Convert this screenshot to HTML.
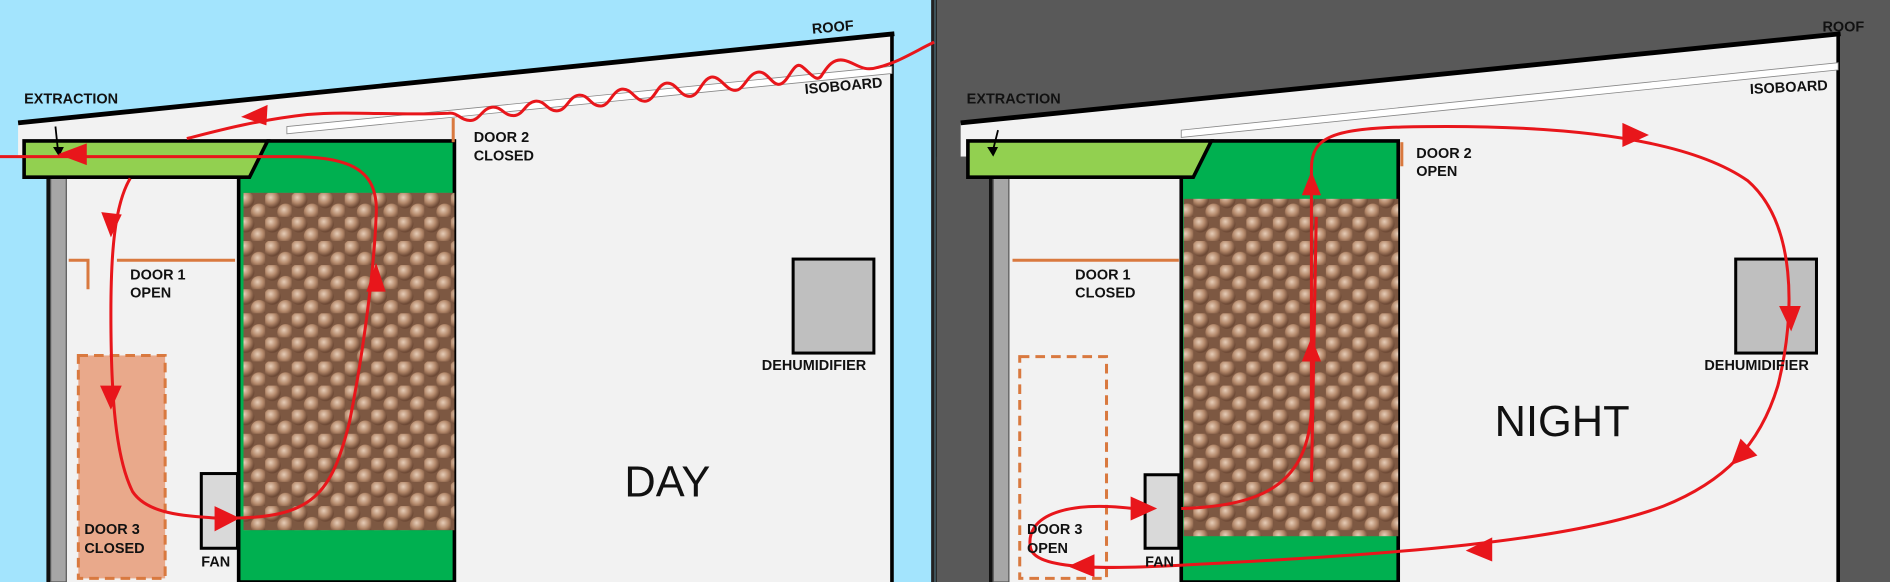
<!DOCTYPE html>
<html><head><meta charset="utf-8"><style>
html,body{margin:0;padding:0;background:#000;}
svg{display:block}
text{font-family:"Liberation Sans",sans-serif;}
.l{font-size:12px;font-weight:bold;fill:#111;}
</style></head><body>
<svg width="1890" height="582" viewBox="0 0 1568 483" preserveAspectRatio="none" xmlns="http://www.w3.org/2000/svg">
<defs>
<radialGradient id="nut" cx="40%" cy="35%" r="60%">
<stop offset="0" stop-color="#e6cdb8"/><stop offset="0.55" stop-color="#b58a6c"/><stop offset="1" stop-color="#6e4a36"/>
</radialGradient>
<pattern id="nuts" width="22" height="20" patternUnits="userSpaceOnUse">
<rect width="22" height="20" fill="#7d5842"/>
<circle cx="6" cy="6" r="7" fill="url(#nut)"/>
<circle cx="17" cy="16" r="7" fill="url(#nut)"/>
</pattern>
</defs>
<!-- LEFT PANEL -->
<rect x="0" y="0" width="776" height="483" fill="#a3e4fd"/>
<polygon points="15,102 740,28 740,483 40,483 40,130 15,130" fill="#f2f2f2"/>
<rect x="0" y="130" width="42" height="353" fill="#a3e4fd"/>
<rect x="42" y="130" width="13" height="353" fill="#a6a6a6" stroke="#555" stroke-width="1"/>
<line x1="40" y1="130" x2="40" y2="483" stroke="#111" stroke-width="3"/>
<line x1="15" y1="102" x2="742" y2="28" stroke="#000" stroke-width="4"/>
<line x1="740" y1="28" x2="740" y2="483" stroke="#000" stroke-width="3"/>
<line x1="774" y1="0" x2="774" y2="483" stroke="#222" stroke-width="3"/>
<polygon points="238,105 740,55 740,61 238,111" fill="#fff" stroke="#888" stroke-width="0.7"/>
<polygon points="222,117 377,117 377,483 198,483 198,147" fill="#00b050" stroke="#000" stroke-width="3"/>
<rect x="202" y="160" width="175" height="280" fill="url(#nuts)"/>
<polygon points="20,117 222,117 207,147 20,147" fill="#92d050" stroke="#000" stroke-width="3"/>
<line x1="376" y1="98" x2="376" y2="118" stroke="#d9793f" stroke-width="2.5"/>
<line x1="97" y1="216" x2="195" y2="216" stroke="#d9793f" stroke-width="2.5"/>
<polyline points="57,216 73,216 73,240" fill="none" stroke="#d9793f" stroke-width="2.5"/>
<rect x="65" y="295" width="72" height="185" fill="#e9a98b" stroke="#d9793f" stroke-width="2.5" stroke-dasharray="8,5"/>
<rect x="167" y="393" width="30" height="62" fill="#d9d9d9" stroke="#000" stroke-width="2.5"/>
<rect x="658" y="215" width="67" height="78" fill="#bfbfbf" stroke="#000" stroke-width="2.5"/>
<line x1="46" y1="105" x2="48" y2="124" stroke="#000" stroke-width="1.5"/>
<polygon points="44,122 53,122 49,130" fill="#000"/>
<g fill="none" stroke="#e8161b" stroke-width="2.5">
<path d="M775,35 C760,42 745,52 728,56 C715,60 710,52 700,50 C690,48 685,58 682,62 C678,70 672,60 665,55 C658,50 654,70 646,70 C640,70 636,58 628,60 C620,62 617,75 610,75 C602,75 598,63 590,64 C582,66 580,80 572,80 C564,80 561,68 553,69 C545,70 543,84 535,84 C527,84 524,73 516,74 C508,75 506,88 498,88 C490,88 488,78 480,79 C472,80 470,92 462,92 C454,92 452,83 444,84 C436,85 434,96 426,96 C418,96 416,88 408,89 C400,90 398,100 390,100 C382,100 380,93 372,94 C330,96 290,92 255,95 C210,100 175,110 155,115"/>
<path d="M0,130 L240,130 C290,130 315,140 312,180 C310,230 300,300 290,350 C275,410 260,430 190,430"/>
<path d="M108,148 C95,170 92,210 92,260 C92,330 96,380 110,408 C122,426 150,428 180,430"/>
</g>
<g fill="#e8161b">
<polygon points="200,97 222,87 221,104"/>
<polygon points="48,128 72,119 72,137"/>
<polygon points="312,218 304,242 320,242"/>
<polygon points="92,197 84,176 101,178"/>
<polygon points="92,340 83,320 101,320"/>
<polygon points="199,430 178,420 178,441"/>
</g>
<text class="l" x="674" y="28" transform="rotate(-5 674 28)">ROOF</text>
<text class="l" x="668" y="78" transform="rotate(-5 668 78)">ISOBOARD</text>
<text class="l" x="20" y="86">EXTRACTION</text>
<text class="l" x="393" y="118">DOOR 2</text>
<text class="l" x="393" y="133">CLOSED</text>
<text class="l" x="108" y="232">DOOR 1</text>
<text class="l" x="108" y="247">OPEN</text>
<text class="l" x="70" y="443">DOOR 3</text>
<text class="l" x="70" y="459">CLOSED</text>
<text class="l" x="167" y="470">FAN</text>
<text class="l" x="632" y="307">DEHUMIDIFIER</text>
<text x="518" y="412" font-size="36" fill="#111">DAY</text>
<!-- RIGHT PANEL -->
<rect x="777" y="0" width="791" height="483" fill="#595959"/>
<polygon points="797,102 1525,28 1525,483 822,483 822,130 797,130" fill="#f2f2f2"/>
<rect x="777" y="130" width="45" height="353" fill="#595959"/>
<rect x="824" y="130" width="13" height="353" fill="#a6a6a6" stroke="#555" stroke-width="1"/>
<line x1="822" y1="130" x2="822" y2="483" stroke="#111" stroke-width="3"/>
<line x1="797" y1="102" x2="1527" y2="28" stroke="#000" stroke-width="4"/>
<line x1="1525" y1="28" x2="1525" y2="483" stroke="#000" stroke-width="3"/>
<polygon points="980,108 1525,52 1525,58 980,114" fill="#fff" stroke="#888" stroke-width="0.7"/>
<polygon points="1005,117 1160,117 1160,483 980,483 980,147" fill="#00b050" stroke="#000" stroke-width="3"/>
<rect x="982" y="165" width="178" height="280" fill="url(#nuts)"/>
<polygon points="803,117 1005,117 990,147 803,147" fill="#92d050" stroke="#000" stroke-width="3"/>
<line x1="1163" y1="118" x2="1163" y2="138" stroke="#d9793f" stroke-width="2.5"/>
<line x1="840" y1="216" x2="978" y2="216" stroke="#d9793f" stroke-width="2.5"/>
<rect x="846" y="296" width="72" height="184" fill="none" stroke="#d9793f" stroke-width="2.5" stroke-dasharray="8,5"/>
<rect x="950" y="394" width="28" height="61" fill="#d9d9d9" stroke="#000" stroke-width="2.5"/>
<rect x="1440" y="215" width="67" height="78" fill="#bfbfbf" stroke="#000" stroke-width="2.5"/>
<line x1="828" y1="108" x2="824" y2="124" stroke="#000" stroke-width="1.5"/>
<polygon points="819,122 828,122 824,130" fill="#000"/>
<g fill="none" stroke="#e8161b" stroke-width="2.5">
<path d="M980,422 C1050,420 1085,400 1088,340 L1088,140 C1088,110 1110,105 1200,105 C1300,105 1400,115 1450,150 C1490,185 1490,260 1475,320 C1460,370 1430,400 1380,420 C1300,450 1150,460 1000,468 C930,472 860,475 855,455 C850,430 880,415 940,422"/>
<path d="M1088,400 L1092,180"/>
</g>
<g fill="#e8161b">
<polygon points="1088,142 1080,162 1096,162"/>
<polygon points="1088,280 1080,300 1096,300"/>
<polygon points="1368,112 1346,102 1346,122"/>
<polygon points="1486,275 1476,254 1494,254"/>
<polygon points="1436,386 1444,364 1458,378"/>
<polygon points="1216,457 1238,446 1238,466"/>
<polygon points="886,470 908,460 908,479"/>
<polygon points="960,422 938,412 938,432"/>
</g>
<text class="l" x="1512" y="26">ROOF</text>
<text class="l" x="1452" y="78" transform="rotate(-3 1452 78)">ISOBOARD</text>
<text class="l" x="802" y="86">EXTRACTION</text>
<text class="l" x="1175" y="131">DOOR 2</text>
<text class="l" x="1175" y="146">OPEN</text>
<text class="l" x="892" y="232">DOOR 1</text>
<text class="l" x="892" y="247">CLOSED</text>
<text class="l" x="852" y="443">DOOR 3</text>
<text class="l" x="852" y="459">OPEN</text>
<text class="l" x="950" y="470">FAN</text>
<text class="l" x="1414" y="307">DEHUMIDIFIER</text>
<text x="1240" y="362" font-size="36" fill="#111">NIGHT</text>
</svg>
</body></html>
